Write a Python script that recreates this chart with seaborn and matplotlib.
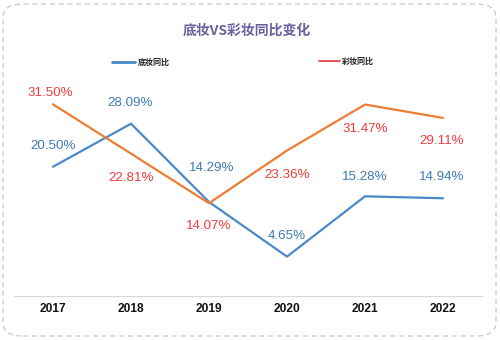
import matplotlib
matplotlib.use("Agg")
import matplotlib.pyplot as plt
import seaborn as sns
import pandas as pd
from matplotlib.patches import FancyBboxPatch
from matplotlib.lines import Line2D

# ---- data ----
years = ["2017", "2018", "2019", "2020", "2021", "2022"]
series_names = ["底妆同比", "彩妆同比"]
base_makeup = [20.50, 28.09, 14.29, 4.65, 15.28, 14.94]
color_makeup = [31.50, 22.81, 14.07, 23.36, 31.47, 29.11]
title = "底妆VS彩妆同比变化"

# ---- styling (positions / colours) ----
line_colors = ["#4A89C8", "#ED7D31"]
label_colors = ["#3F7AB5", "#F03A3A"]
legend_colors = ["#4A89C8", "#E03040"]
# label offsets in pixels (dx, dy up)
offsets_blue = [(0, 21), (-1, 21), (3, 34), (0, 21), (0, 19), (-1, 21)]
offsets_orange = [(-3, 11), (0, -24), (0, -23), (0, -24), (0, -24), (-1, -23)]

sns.set_theme(style="white")
plt.rcParams["font.family"] = ["Noto Sans CJK SC", "DejaVu Sans"]

df = pd.DataFrame({
    "x": list(range(len(years))) * 2,
    "value": base_makeup + color_makeup,
    "series": [series_names[0]] * len(years) + [series_names[1]] * len(years),
})

fig = plt.figure(figsize=(5, 3.4), dpi=100)
ax = fig.add_axes([0.028, 0.1294, 0.936, 0.622])

sns.lineplot(data=df, x="x", y="value", hue="series", palette=line_colors,
             linewidth=1.6, ax=ax, legend=False, sort=False)

ax.set_xlim(-0.5, len(years) - 0.5)
ax.set_ylim(-2.3, 35)
ax.set_yticks([])
ax.set_xticks(range(len(years)))
ax.set_xticklabels(years, fontsize=8.6, fontweight="bold",
                   family=["Liberation Sans", "DejaVu Sans"], color="#111111")
ax.tick_params(axis="x", length=0, pad=5)
ax.set_xlabel("")
ax.set_ylabel("")
for s in ["top", "left", "right"]:
    ax.spines[s].set_visible(False)
ax.spines["bottom"].set_color("#d9d9d9")
ax.spines["bottom"].set_linewidth(0.9)
ax.patch.set_alpha(0)

px = 72 / 100.0
for vals, offs, col in [(base_makeup, offsets_blue, label_colors[0]),
                        (color_makeup, offsets_orange, label_colors[1])]:
    for i, v in enumerate(vals):
        dx, dy = offs[i]
        ax.annotate(f"{v:.2f}%", (i, v), xytext=(dx * px, dy * px),
                    textcoords="offset points", ha="center", va="center",
                    fontsize=9.6, color=col,
                    family=["Liberation Sans", "DejaVu Sans"])

# title
fig.text(0.494, 1 - 31 / 340, title, ha="center", va="center",
         fontsize=10, fontweight="bold", color="#6C5F9E")

# legend
leg_items = [((112, 135), 62, 138), ((319, 340), 61, 342)]
for (x0x1, yy, tx), name, col, lw in zip(leg_items, series_names, legend_colors, [2.0, 1.2]):
    fy = 1 - yy / 340
    fig.add_artist(Line2D([x0x1[0] / 500, x0x1[1] / 500], [fy, fy],
                          color=col, linewidth=lw, transform=fig.transFigure))
    fig.text(tx / 500, fy, name, ha="left", va="center", fontsize=5.8,
             fontweight="bold", color="#222222")

# dashed rounded border
border = FancyBboxPatch((3 / 500, 4 / 340), 493 / 500, 332 / 340,
                        boxstyle="round,pad=0,rounding_size=0.04",
                        transform=fig.transFigure, fill=False,
                        edgecolor="#c8c8c8", linewidth=0.9, linestyle=(0, (4, 3)))
fig.add_artist(border)

fig.savefig("out.png", dpi=100, facecolor="white")
